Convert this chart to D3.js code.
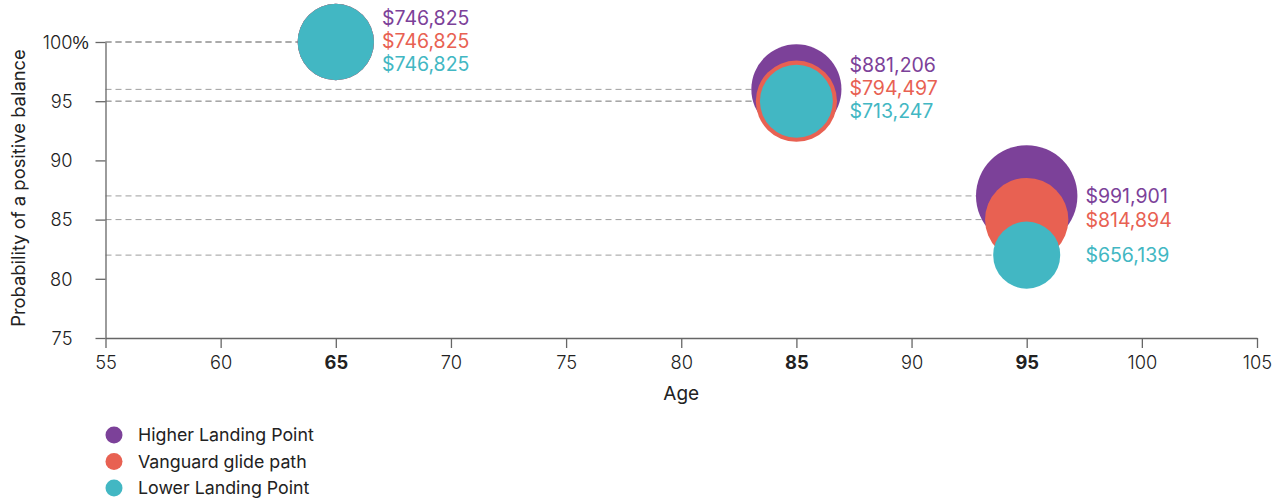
<!DOCTYPE html>
<html>
<head>
<meta charset="utf-8">
<script src="https://cdn.jsdelivr.net/npm/d3@7"></script>
<style>
  html, body { margin: 0; padding: 0; background: #fff; }
  svg { display: block; font-family: "Inter", "Roboto", sans-serif; }
</style>
</head>
<body>
<svg id="chart" width="1281" height="501"></svg>
<script>
// Ages at which the balances are measured
const ages = [65, 85, 95];

// Probability of a positive balance (%) per strategy
const higherProb = [100, 96, 87];
const vanguardProb = [100, 95, 85];
const lowerProb = [100, 95, 82];

// Median balance ($) per strategy
const higherBalance = [746825, 881206, 991901];
const vanguardBalance = [746825, 794497, 814894];
const lowerBalance = [746825, 713247, 656139];

const seriesNames = ["Higher Landing Point", "Vanguard glide path", "Lower Landing Point"];
const seriesColors = ["#7c4199", "#e86152", "#42b7c3"];

const xTicks = [55, 60, 65, 70, 75, 80, 85, 90, 95, 100, 105];
const yTicks = [75, 80, 85, 90, 95, 100];

const series = [
  { name: seriesNames[0], color: seriesColors[0], prob: higherProb, bal: higherBalance },
  { name: seriesNames[1], color: seriesColors[1], prob: vanguardProb, bal: vanguardBalance },
  { name: seriesNames[2], color: seriesColors[2], prob: lowerProb, bal: lowerBalance }
];

const svg = d3.select("#chart");
const margin = { left: 105.5, right: 24, top: 42, bottom: 163 };
const W = 1281, H = 501;

const x = d3.scaleLinear().domain([55, 105]).range([margin.left, W - margin.right]);
const y = d3.scaleLinear().domain([75, 100]).range([H - margin.bottom, margin.top]);
const r = d3.scaleLinear().domain([0, d3.max(higherBalance)]).range([0, 50.7]);

const fmt = v => "$" + d3.format(",")(v);
const axisColor = "#666";
const textColor = "#222";
const tickFont = 18.3;

// Dashed reference lines from the y-axis to each bubble
const refLines = [];
series.forEach(s => s.prob.forEach((p, i) => refLines.push({ age: ages[i], p })));
svg.append("g").selectAll("line").data(refLines).join("line")
  .attr("x1", x(55)).attr("x2", d => x(d.age))
  .attr("y1", d => y(d.p)).attr("y2", d => y(d.p))
  .attr("stroke", "#9e9e9e").attr("stroke-width", 1)
  .attr("stroke-dasharray", "6,4");

// Axes
const xAxis = svg.append("g")
  .attr("transform", `translate(0,${y(75)})`)
  .call(d3.axisBottom(x).tickValues(xTicks).tickSize(10).tickPadding(8).tickSizeOuter(0));
const yAxis = svg.append("g")
  .attr("transform", `translate(${x(55)},0)`)
  .call(d3.axisLeft(y).tickValues(yTicks).tickSize(10).tickPadding(23).tickSizeOuter(0));

[xAxis, yAxis].forEach(g => {
  g.select(".domain").attr("stroke", axisColor).attr("stroke-width", 1.3);
  g.selectAll(".tick line").attr("stroke", axisColor).attr("stroke-width", 1.3);
  g.selectAll(".tick text").attr("fill", textColor).attr("font-size", tickFont)
    .attr("font-family", "Inter, Roboto, sans-serif").attr("font-weight", 300);
});
xAxis.selectAll(".tick text")
  .attr("font-weight", d => ages.includes(d) ? 700 : 300);
yAxis.selectAll(".tick text").attr("dy", "0.34em");
// percent sign hangs past the number on the top tick
yAxis.selectAll(".tick").filter(d => d === 100)
  .append("text")
  .attr("x", -33).attr("dy", "0.34em")
  .attr("fill", textColor).attr("font-size", tickFont).attr("font-weight", 300)
  .attr("text-anchor", "start")
  .text("%");

// Axis titles
svg.append("text")
  .attr("x", (x(55) + x(105)) / 2).attr("y", 399.5)
  .attr("text-anchor", "middle").attr("fill", textColor)
  .attr("font-size", 19).attr("font-weight", 400)
  .text("Age");
svg.append("text")
  .attr("transform", `translate(25,188) rotate(-90)`)
  .attr("text-anchor", "middle").attr("fill", textColor)
  .attr("font-size", 18.4).attr("font-weight", 400)
  .text("Probability of a positive balance");

// Bubbles: higher first, lower on top
series.forEach(s => {
  svg.append("g").selectAll("circle").data(ages.map((a, i) => ({ age: a, p: s.prob[i], b: s.bal[i] })))
    .join("circle")
    .attr("cx", d => x(d.age)).attr("cy", d => y(d.p))
    .attr("r", d => r(d.b))
    .attr("fill", s.color);
});

// Balance labels to the right of each age group
const lineH = 23;
ages.forEach((a, i) => {
  const ys = series.map(s => y(s.prob[i]));
  const maxR = d3.max(series, s => r(s.bal[i]));
  const gaps = d3.pairs(ys).map(([u, v]) => v - u);
  const stacked = d3.min(gaps) < lineH - 2;
  const center = ys[0] - 1.5;
  series.forEach((s, k) => {
    svg.append("text")
      .attr("x", x(a) + maxR + 8)
      .attr("y", stacked ? center + (k - 1) * lineH : ys[k])
      .attr("dy", "0.36em")
      .attr("fill", s.color)
      .attr("font-size", 19.5).attr("font-weight", 400)
      .text(fmt(s.bal[i]));
  });
});

// Legend
const legend = svg.append("g").attr("transform", "translate(114,435)");
series.forEach((s, k) => {
  const g = legend.append("g").attr("transform", `translate(0,${k * 26.5})`);
  g.append("circle").attr("r", 8.5).attr("fill", s.color);
  g.append("text").attr("x", 24).attr("dy", "0.35em")
    .attr("fill", textColor).attr("font-size", 17.8).attr("font-weight", 400)
    .text(s.name);
});
</script>
</body>
</html>
